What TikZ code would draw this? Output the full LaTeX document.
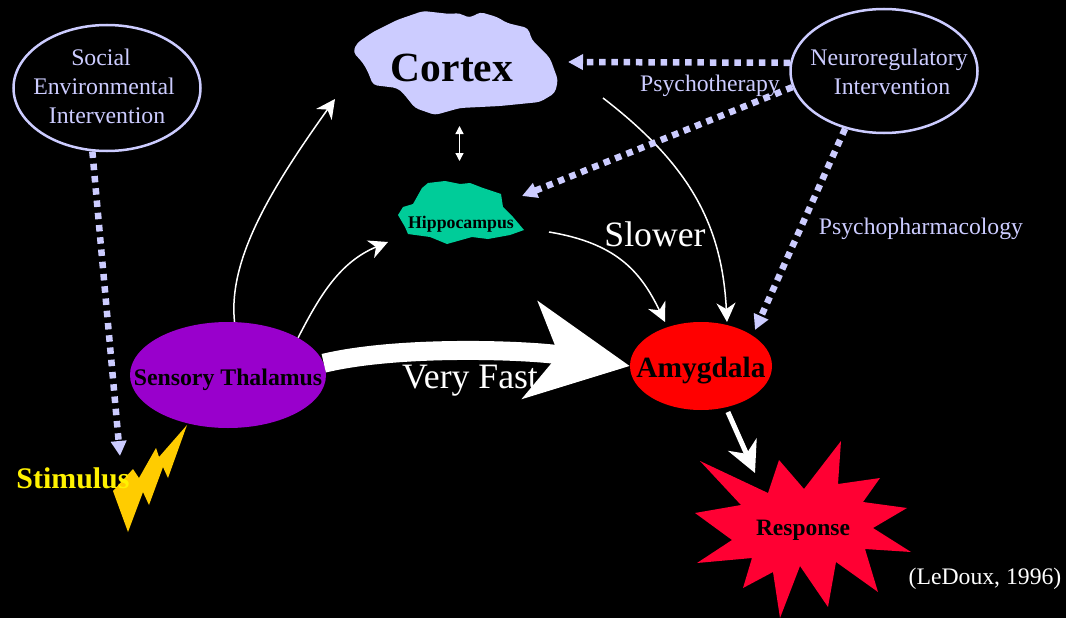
\documentclass[tikz,border=0pt]{standalone}
\usepackage{fontspec}
\setmainfont{Liberation Serif}
\usetikzlibrary{arrows.meta,shapes.geometric}
\definecolor{lav}{HTML}{CCCCFF}
\definecolor{hippo}{HTML}{00CC99}
\definecolor{burst}{HTML}{FF0033}
\definecolor{bolt}{HTML}{FFCC00}
\definecolor{thal}{HTML}{9900CC}
\newcommand{\fs}[1]{\fontsize{#1}{29}\selectfont}
\newcommand{\ctext}[3]{\makebox[0pt]{\hspace{#1}\raisebox{#2}[0pt][0pt]{\begin{tabular}{@{}c@{}}#3\end{tabular}}}}
\begin{document}
\begin{tikzpicture}[x=1pt,y=-1pt,
    oval/.style = {draw=lav, line width=2.5pt, ellipse, inner sep=0pt, text=lav, font=\fs{23.8}},
    solid/.style = {ellipse, inner sep=0pt, text=black, font=\bfseries\fs{23.8}},
    note/.style = {text=lav, inner sep=0pt, font=\fs{23.7}},
    big/.style = {text=white, inner sep=0pt, font=\fs{35.7}},
    thin/.style = {draw=white, line width=1.5pt, -{Stealth[length=19pt,width=19pt,inset=6pt]}},
    dots/.style = {draw=lav, line width=6.5pt, dash pattern=on 6.5pt off 5.8pt, -{Triangle[length=15pt,width=15pt]}}]
    \fill[black] (0,0) rectangle (1066,618);
    \useasboundingbox (0,0) rectangle (1066,618);
    % brain shapes
    \fill[lav, rounded corners=4pt] (353,52) -- (357,43) -- (373,32) -- (397,20) -- (423,11) -- (450,14) -- (460,13) -- (466,17) -- (472,17) -- (480,12) -- (497,17) -- (507,23) -- (528,28) -- (532,40) -- (550,58) -- (558,80) -- (555,93) -- (540,102) -- (500,106) -- (460,108) -- (435,115) -- (415,108) -- (403,93) -- (397,88) -- (373,85) -- (368,72) -- (363,63) -- cycle;
    \fill[hippo] (398,215) -- (403,207) -- (413,204) -- (422,188) -- (428,183) -- (445,181) -- (460,184) -- (470,183) -- (483,188) -- (501,194) -- (503,207) -- (513,217) -- (524,230) -- (510,235) -- (488,239) -- (472,237) -- (447,244) -- (430,237) -- (408,234) -- (405,227) -- cycle;
    \fill[bolt] (187,425) -- (168,478) -- (163,467) -- (149,505) -- (143,492) -- (128,532) -- (113,491) -- (133,469) -- (139,478) -- (156,448) -- (159,457) -- cycle;
    \fill[burst] (700,461) -- (768,493) -- (779,460) -- (804,489) -- (841,441) -- (838,484) -- (880,478) -- (863,502) -- (907,508) -- (873,528) -- (911,552) -- (865,549) -- (878,592) -- (836,562) -- (828,607) -- (800,566) -- (780,618) -- (773,572) -- (743,588) -- (752,558) -- (697,563) -- (732,540) -- (695,513) -- (741,505) -- cycle;
    % nodes
    \node[inner sep=0pt, text=black, font=\bfseries\fs{41.5}] (cortex) at (452,68) {Cortex};
    \node[inner sep=0pt, text=black, font=\bfseries\fs{17.8}] (hipp) at (461,224) {Hippocampus};
    \node[oval, minimum width=187pt, minimum height=126pt] (social) at (107,88) {\ctext{-6pt}{-7pt}{\hspace{-6pt}Social\\Environmental\\\hspace{6pt}Intervention}};
    \node[oval, minimum width=187pt, minimum height=124pt] (neuro) at (884,71) {\ctext{10pt}{-9.5pt}{Neuroregulatory\\\hspace{6pt}Intervention}};
    \node[solid, fill=thal, minimum width=196pt, minimum height=106pt] (thalamus) at (228,375) {\ctext{0pt}{-11pt}{Sensory Thalamus}};
    \node[solid, fill=red, minimum width=142pt, minimum height=88pt, font=\bfseries\fs{29.4}] (amyg) at (701,366) {\ctext{0pt}{-11.5pt}{Amygdala}};
    \node[inner sep=0pt, text=black, font=\bfseries\fs{23.5}] (resp) at (803,530) {Response};
    \node[inner sep=0pt, text=yellow, font=\bfseries\fs{29.9}] (stim) at (73,478) {Stimulus};
    \node[note] (psytx) at (710,86) {Psychotherapy};
    \node[note] (psyph) at (921,229) {Psychopharmacology};
    \node[big] (slow) at (655,234) {Slower};
    \node[big] (fast) at (470,381) {Very Fast};
    \node[inner sep=0pt, text=white, font=\fs{23.7}] (ledoux) at (985,579) {(LeDoux, 1996)};
    % free ends
    \coordinate (c1) at (335,99);
    \coordinate (c2) at (568,62);
    \coordinate (c3) at (603,98);
    \coordinate (c4) at (459.5,126);
    \coordinate (c5) at (459.5,161);
    \coordinate (h1) at (388,242);
    \coordinate (h2) at (522,196);
    \coordinate (h3) at (549,232);
    \coordinate (a1) at (665,322);
    \coordinate (a2) at (727,322);
    \coordinate (a3) at (755,330);
    \coordinate (s1) at (120,456);
    \coordinate (r1) at (755,473);
    % connectors
    \draw[thin] (thalamus.83) .. controls (228,260) and (270,190) .. (c1);
    \draw[thin] (thalamus.28) .. controls (320,295) and (340,262) .. (h1);
    \draw[thin] (c3) .. controls (690,165) and (722,225) .. (a2);
    \draw[thin] (h3) .. controls (615,243) and (640,270) .. (a1);
    \draw[draw=white, line width=1.3pt, {Triangle[length=8pt,width=8pt]}-{Triangle[length=8pt,width=8pt]}] (c4) -- (c5);
    \draw[draw=white, line width=19pt, -{Stealth[length=100pt,width=97pt,inset=28pt]}] (thalamus.7) .. controls (400,345) and (530,350) .. (amyg.west);
    \draw[draw=white, line width=5pt, shorten <=5pt, -{Stealth[length=31pt,width=31pt,inset=10pt]}] (amyg.-59) -- (r1);
    \draw[dots] (social.-103) -- (s1);
    \draw[dots] (neuro.175) -- (c2);
    \draw[dots] (neuro.190) -- (h2);
    \draw[dots] (neuro.-124) -- (a3);
\end{tikzpicture}
\end{document}
